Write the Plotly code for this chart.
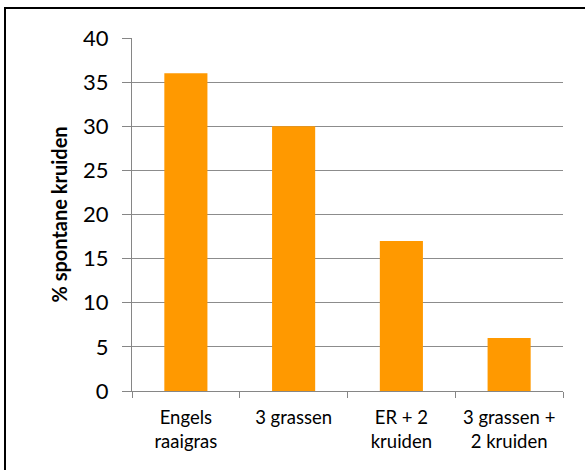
import plotly.graph_objects as go

categories = ["Engels<br>raaigras", "3 grassen", "ER + 2<br>kruiden", "3 grassen +<br>2 kruiden"]
values = [36, 30, 17, 6]
y_ticks = [0, 5, 10, 15, 20, 25, 30, 35, 40]
y_title = "% spontane kruiden"

W, H = 585, 470
ml, mr, mt, mb = 132, 22, 38, 79
pw, ph = W - ml - mr, H - mt - mb

fig = go.Figure(go.Bar(x=categories, y=values, marker=dict(color="#FF9900", line=dict(width=0))))

fig.update_layout(
    width=W, height=H,
    margin=dict(l=ml, r=mr, t=mt, b=mb),
    paper_bgcolor="white", plot_bgcolor="white",
    bargap=0.6,
    font=dict(family="Lato, Carlito, sans-serif", color="#000000"),
    showlegend=False,
    xaxis=dict(
        type="category", showgrid=False, showline=True, linecolor="#868686", linewidth=1.3,
        ticks="outside", tickson="boundaries", ticklen=6, tickcolor="#868686", tickwidth=1.3,
        tickfont=dict(size=18.5), ticklabelstandoff=10,
    ),
    yaxis=dict(
        range=[0, 40], tickvals=y_ticks, showgrid=True, gridcolor="#8C8C8C", gridwidth=1.3,
        showline=True, linecolor="#868686", linewidth=1.3, zeroline=False,
        ticks="outside", ticklen=9, tickcolor="#868686", tickwidth=1.3,
        tickfont=dict(size=22), ticklabelstandoff=9,
        title=dict(text="<b>" + y_title + "</b>", font=dict(size=20), standoff=9),
    ),
    shapes=[dict(
        type="rect", xref="paper", yref="paper",
        x0=(5 - ml) / pw, x1=2, y0=-2, y1=(H - mb - 8) / ph,
        line=dict(color="black", width=2), fillcolor="rgba(0,0,0,0)", layer="above",
    )],
)

fig.write_html(
    "out.html",
    config={"displayModeBar": False},
    post_script="document.body.style.margin='0';document.body.style.overflow='hidden';",
)
